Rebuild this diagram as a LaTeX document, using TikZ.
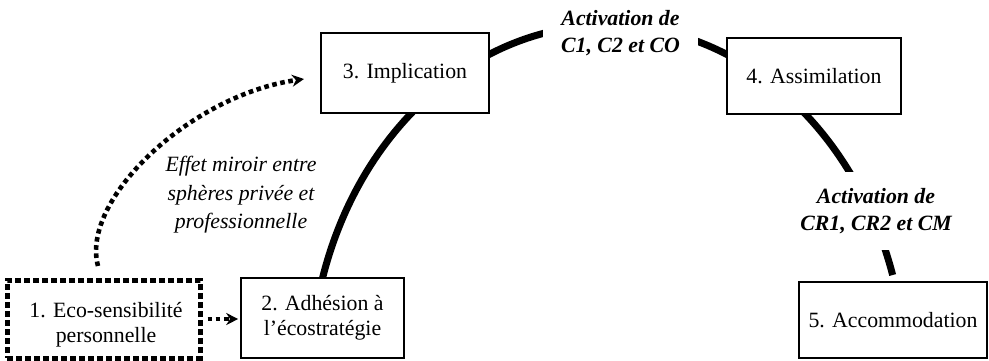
\documentclass[tikz,border=0pt]{standalone}
\usepackage{fontspec}
\setmainfont{Liberation Serif}
\usetikzlibrary{arrows.meta,calc}
\begin{document}
\begin{tikzpicture}[x=1pt,y=1pt,
  every node/.style={font=\fontsize{21.8}{25}\selectfont},
  box/.style={draw=black, line width=1.6pt, fill=white, inner sep=0pt, align=center},
  dashbox/.style={draw=black, line width=5pt, dash pattern=on 6pt off 3pt, fill=white, inner sep=0pt, align=center},
  cycleline/.style={line width=7pt},
  dotarrow/.style={line width=4.6pt, dash pattern=on 4.6pt off 3.6pt, -{Stealth[length=12pt,width=12pt]}},
  actlabel/.style={fill=white, inner sep=0pt, align=center, font=\fontsize{21.8}{27}\selectfont\bfseries\itshape},
  mirror/.style={inner sep=0pt, align=center, font=\fontsize{21.8}{28.5}\selectfont\itshape}]
\useasboundingbox (0,0) rectangle (989,-360);

% the big cycle arc (behind the boxes)
\draw[cycleline] (608,-380) ++(166:298 and 355)
  arc[start angle=166, end angle=17.2, x radius=298, y radius=355];

% labels that interrupt the arc
\node[actlabel, minimum width=155, minimum height=56] (act1) at (620.5,-33) {Activation de\\C1, C2 et CO};
\node[actlabel, minimum height=78] (act2) at (876,-211) {Activation de\\CR1, CR2 et CM};

% boxes
\node[dashbox, minimum width=193, minimum height=78] (b1) at (103.5,-319) {};
\node (b1t) at (106,-325) [align=center, inner sep=0pt] {1. Eco-sensibilité\\personnelle};
\node[box, minimum width=163, minimum height=80] (b2) at (322.5,-318) {2. Adhésion à\\l’écostratégie};
\node[box, minimum width=168, minimum height=80] (b3) at (405,-73) {3. Implication};
\node[box, minimum width=174, minimum height=76] (b4) at (814,-76) {4. Assimilation};
\node[box, minimum width=188, minimum height=76] (b5) at (893,-320) {5. Accommodation};

% mirror effect
\node[mirror] (mir) at (241,-195) {Effet miroir entre\\sphères privée et\\professionnelle};
\coordinate (m0) at (98,-266);
\coordinate (m1) at (304,-79);
\draw[dotarrow] (m0) .. controls (80,-200) and (190,-95) .. (m1);

% 1 -> 2
\draw[dotarrow, shorten <=5pt, shorten >=2pt] (b1.east) -- (b1.east -| b2.west);
\end{tikzpicture}
\end{document}
